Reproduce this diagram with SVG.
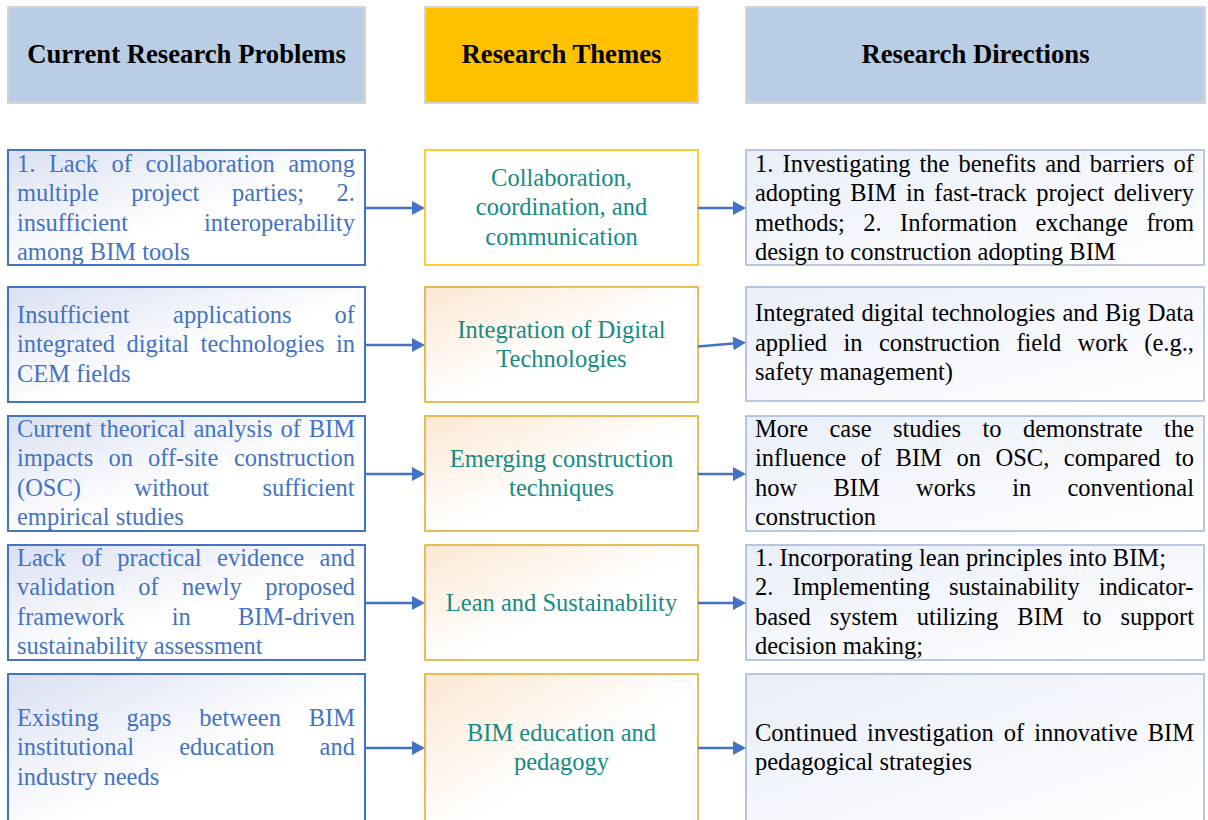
<svg xmlns="http://www.w3.org/2000/svg" width="1208" height="820" viewBox="0 0 1208 820">
<defs>
<style>
.hdr{stroke:#D4D4D4;stroke-width:2}
.hb{fill:#B9CDE5}
.hy{fill:#FFC000}
.ht{font-family:"Liberation Serif","Times New Roman",serif;font-weight:bold;font-size:26.7px;fill:#000;text-anchor:middle}
.pb{fill:url(#gL);stroke:#4472C4;stroke-width:2}
.tb{fill:url(#gM);stroke:#E2AE2C;stroke-width:1.6}
.tb1{fill:#FFFFFF;stroke:#FFC000;stroke-width:1.6}
.db{fill:url(#gR);stroke:#A7B9DC;stroke-width:1.6}
.t{font-family:"Liberation Serif","Times New Roman",serif;font-size:24.5px}
.tl{fill:#4472C4}
.tm{fill:#158B83;text-anchor:middle}
.tr{fill:#000000}
.conn line{stroke:#4472C4;stroke-width:2.5;marker-end:url(#ah)}
</style>
<linearGradient id="gL" x1="0" y1="0" x2="1" y2="1"><stop offset="0" stop-color="#DAE0F2"/><stop offset="0.55" stop-color="#FFFFFF"/></linearGradient>
<linearGradient id="gM" x1="0" y1="0" x2="1" y2="1"><stop offset="0" stop-color="#FCE7D2"/><stop offset="0.55" stop-color="#FFFFFF"/></linearGradient>
<linearGradient id="gR" x1="0" y1="0" x2="1" y2="1"><stop offset="0" stop-color="#E9EEF8"/><stop offset="1" stop-color="#FFFFFF"/></linearGradient>
<marker id="ah" markerUnits="userSpaceOnUse" markerWidth="14" markerHeight="14" refX="0" refY="7" orient="auto" viewBox="0 0 14 14"><path d="M0,0 L13,7 L0,14 z" fill="#4472C4"/></marker>
</defs>

<g id="header-problems"><rect class="hdr hb" x="8" y="7" width="357" height="96"/><text class="ht" x="186.5" y="63">Current Research Problems</text></g>
<g id="header-themes"><rect class="hdr hy" x="425" y="7" width="273" height="96"/><text class="ht" x="561.5" y="63">Research Themes</text></g>
<g id="header-directions"><rect class="hdr hb" x="746" y="7" width="459" height="96"/><text class="ht" x="975.5" y="63">Research Directions</text></g>

<g id="problem-1"><rect class="pb" x="8" y="150" width="357" height="115"/>
<text class="t tl"><tspan x="17" y="172">1.</tspan><tspan x="48.9" y="172">Lack</tspan><tspan x="111.5" y="172">of</tspan><tspan x="145.5" y="172">collaboration</tspan><tspan x="288.3" y="172">among</tspan><tspan x="17" y="201.3">multiple</tspan><tspan x="131.3" y="201.3">project</tspan><tspan x="231.9" y="201.3">parties;</tspan><tspan x="336.6" y="201.3">2.</tspan><tspan x="17" y="230.6">insufficient</tspan><tspan x="203.9" y="230.6">interoperability</tspan><tspan x="17" y="259.9">among BIM tools</tspan></text></g>

<g id="theme-1"><rect class="tb1" x="425" y="150" width="273" height="115"/>
<text class="t tm"><tspan x="561.5" y="186">Collaboration,</tspan><tspan x="561.5" y="215.3">coordination, and</tspan><tspan x="561.5" y="244.6">communication</tspan></text></g>

<g id="direction-1"><rect class="db" x="746" y="150" width="458" height="115"/>
<text class="t tr"><tspan x="755" y="172">1.</tspan><tspan x="782.5" y="172">Investigating</tspan><tspan x="919.5" y="172">the</tspan><tspan x="958.5" y="172">benefits</tspan><tspan x="1045.2" y="172">and</tspan><tspan x="1089.7" y="172">barriers</tspan><tspan x="1173.6" y="172">of</tspan><tspan x="755" y="201.3">adopting</tspan><tspan x="850.2" y="201.3">BIM</tspan><tspan x="905.9" y="201.3">in</tspan><tspan x="934.3" y="201.3">fast-track</tspan><tspan x="1036.3" y="201.3">project</tspan><tspan x="1113.7" y="201.3">delivery</tspan><tspan x="755" y="230.6">methods;</tspan><tspan x="863.2" y="230.6">2.</tspan><tspan x="900" y="230.6">Information</tspan><tspan x="1035.5" y="230.6">exchange</tspan><tspan x="1146.4" y="230.6">from</tspan><tspan x="755" y="259.9">design to construction adopting BIM</tspan></text></g>

<g id="problem-2"><rect class="pb" x="8" y="287" width="357" height="115"/>
<text class="t tl"><tspan x="17" y="323">Insufficient</tspan><tspan x="173.1" y="323">applications</tspan><tspan x="334.6" y="323">of</tspan><tspan x="17" y="352.3">integrated</tspan><tspan x="126.5" y="352.3">digital</tspan><tspan x="200.6" y="352.3">technologies</tspan><tspan x="335.9" y="352.3">in</tspan><tspan x="17" y="381.6">CEM fields</tspan></text></g>

<g id="theme-2"><rect class="tb" x="425" y="287" width="273" height="115"/>
<text class="t tm"><tspan x="561.5" y="338">Integration of Digital</tspan><tspan x="561.5" y="367.3">Technologies</tspan></text></g>

<g id="direction-2"><rect class="db" x="746" y="287" width="458" height="114"/>
<text class="t tr"><tspan x="755" y="321">Integrated</tspan><tspan x="861.5" y="321">digital</tspan><tspan x="931.4" y="321">technologies</tspan><tspan x="1062.5" y="321">and</tspan><tspan x="1105.1" y="321">Big</tspan><tspan x="1147.7" y="321">Data</tspan><tspan x="755" y="350.5">applied</tspan><tspan x="843.5" y="350.5">in</tspan><tspan x="878.9" y="350.5">construction</tspan><tspan x="1016.4" y="350.5">field</tspan><tspan x="1077.6" y="350.5">work</tspan><tspan x="1144.3" y="350.5">(e.g.,</tspan><tspan x="755" y="380">safety management)</tspan></text></g>

<g id="problem-3"><rect class="pb" x="8" y="416" width="357" height="115"/>
<text class="t tl"><tspan x="17" y="437">Current</tspan><tspan x="99.8" y="437">theorical</tspan><tspan x="193.5" y="437">analysis</tspan><tspan x="280.4" y="437">of</tspan><tspan x="308.7" y="437">BIM</tspan><tspan x="17" y="466.3">impacts</tspan><tspan x="108.4" y="466.3">on</tspan><tspan x="148" y="466.3">off-site</tspan><tspan x="233.9" y="466.3">construction</tspan><tspan x="17" y="495.6">(OSC)</tspan><tspan x="134.3" y="495.6">without</tspan><tspan x="262.5" y="495.6">sufficient</tspan><tspan x="17" y="524.9">empirical studies</tspan></text></g>

<g id="theme-3"><rect class="tb" x="425" y="416" width="273" height="115"/>
<text class="t tm"><tspan x="561.5" y="467">Emerging construction</tspan><tspan x="561.5" y="496.3">techniques</tspan></text></g>

<g id="direction-3"><rect class="db" x="746" y="416" width="458" height="115"/>
<text class="t tr"><tspan x="755" y="437">More</tspan><tspan x="829.5" y="437">case</tspan><tspan x="893" y="437">studies</tspan><tspan x="982.5" y="437">to</tspan><tspan x="1022.9" y="437">demonstrate</tspan><tspan x="1164.1" y="437">the</tspan><tspan x="755" y="466.3">influence</tspan><tspan x="860.7" y="466.3">of</tspan><tspan x="895.6" y="466.3">BIM</tspan><tspan x="956.5" y="466.3">on</tspan><tspan x="995.5" y="466.3">OSC,</tspan><tspan x="1063.8" y="466.3">compared</tspan><tspan x="1174.9" y="466.3">to</tspan><tspan x="755" y="495.6">how</tspan><tspan x="833.5" y="495.6">BIM</tspan><tspan x="916" y="495.6">works</tspan><tspan x="1012.2" y="495.6">in</tspan><tspan x="1067.5" y="495.6">conventional</tspan><tspan x="755" y="524.9">construction</tspan></text></g>

<g id="problem-4"><rect class="pb" x="8" y="545" width="357" height="115"/>
<text class="t tl"><tspan x="17" y="566">Lack</tspan><tspan x="81.4" y="566">of</tspan><tspan x="117.3" y="566">practical</tspan><tspan x="217.1" y="566">evidence</tspan><tspan x="319.6" y="566">and</tspan><tspan x="17" y="595.3">validation</tspan><tspan x="138.3" y="595.3">of</tspan><tspan x="182" y="595.3">newly</tspan><tspan x="265.2" y="595.3">proposed</tspan><tspan x="17" y="624.6">framework</tspan><tspan x="171.7" y="624.6">in</tspan><tspan x="238" y="624.6">BIM-driven</tspan><tspan x="17" y="653.9">sustainability assessment</tspan></text></g>

<g id="theme-4"><rect class="tb" x="425" y="545" width="273" height="115"/>
<text class="t tm"><tspan x="561.5" y="610.5">Lean and Sustainability</tspan></text></g>

<g id="direction-4"><rect class="db" x="746" y="545" width="458" height="115"/>
<text class="t tr"><tspan x="755" y="566">1. Incorporating lean principles into BIM;</tspan><tspan x="755" y="595.3">2.</tspan><tspan x="792.5" y="595.3">Implementing</tspan><tspan x="949" y="595.3">sustainability</tspan><tspan x="1098.7" y="595.3">indicator-</tspan><tspan x="755" y="624.6">based</tspan><tspan x="829.7" y="624.6">system</tspan><tspan x="916.7" y="624.6">utilizing</tspan><tspan x="1017.3" y="624.6">BIM</tspan><tspan x="1082.5" y="624.6">to</tspan><tspan x="1120.5" y="624.6">support</tspan><tspan x="755" y="653.9">decision making;</tspan></text></g>

<g id="problem-5"><rect class="pb" x="8" y="674" width="357" height="160"/>
<text class="t tl"><tspan x="17" y="726">Existing</tspan><tspan x="126.5" y="726">gaps</tspan><tspan x="199.3" y="726">between</tspan><tspan x="308.7" y="726">BIM</tspan><tspan x="17" y="755.3">institutional</tspan><tspan x="179.2" y="755.3">education</tspan><tspan x="319.6" y="755.3">and</tspan><tspan x="17" y="784.6">industry needs</tspan></text></g>

<g id="theme-5"><rect class="tb" x="425" y="674" width="273" height="160"/>
<text class="t tm"><tspan x="561.5" y="741">BIM education and</tspan><tspan x="561.5" y="770.3">pedagogy</tspan></text></g>

<g id="direction-5"><rect class="db" x="746" y="674" width="458" height="160"/>
<text class="t tr"><tspan x="755" y="741">Continued</tspan><tspan x="867.1" y="741">investigation</tspan><tspan x="1003.8" y="741">of</tspan><tspan x="1034.2" y="741">innovative</tspan><tspan x="1147.7" y="741">BIM</tspan><tspan x="755" y="770.3">pedagogical strategies</tspan></text></g>

<g id="connectors" class="conn">
<line x1="365" y1="208" x2="412" y2="208"/>
<line x1="698" y1="208" x2="733" y2="208"/>
<line x1="365" y1="345" x2="412" y2="345"/>
<line x1="698" y1="346.5" x2="733" y2="343.5"/>
<line x1="365" y1="474" x2="412" y2="474"/>
<line x1="698" y1="474" x2="733" y2="474"/>
<line x1="365" y1="603" x2="412" y2="603"/>
<line x1="698" y1="603" x2="733" y2="603"/>
<line x1="365" y1="748" x2="412" y2="748"/>
<line x1="698" y1="748" x2="733" y2="748"/>
</g>
</svg>
